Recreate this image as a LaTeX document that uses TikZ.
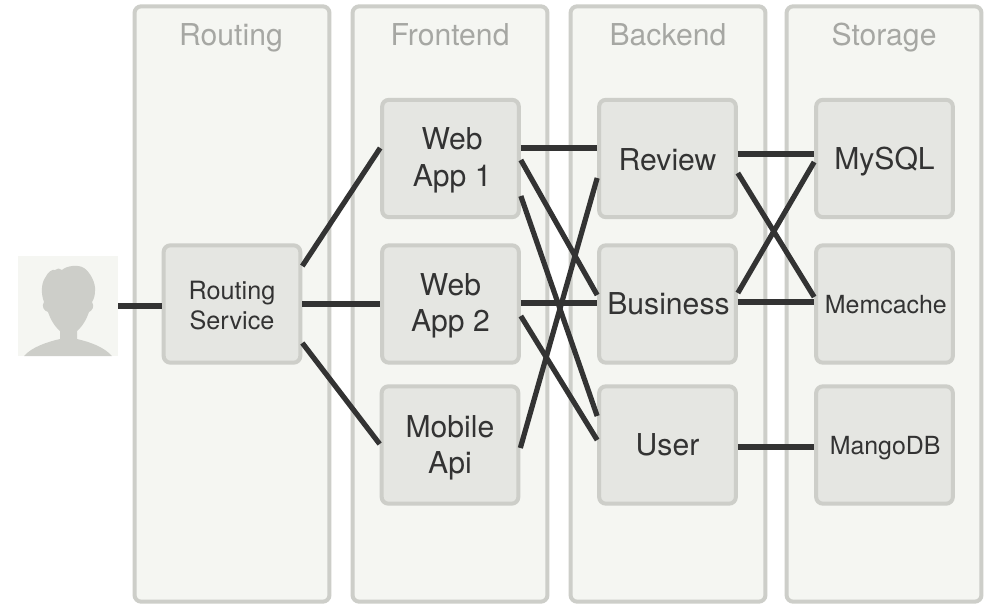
\documentclass[tikz,border=0pt]{standalone}
\usepackage{fontspec}
\setmainfont{TeX Gyre Heros}
\usetikzlibrary{calc}
\definecolor{laneFill}{HTML}{F5F6F2}
\definecolor{edgeGrey}{HTML}{CDCEC9}
\definecolor{boxFill}{HTML}{E5E6E2}
\definecolor{ink}{HTML}{333333}
\definecolor{titleGrey}{HTML}{A6A7A3}
\newcommand{\fsz}[1]{\fontsize{#1}{#1}\selectfont}
\newcommand{\lift}[2]{\raisebox{#1}{#2}}
\tikzset{
  x=0.75pt,y=-0.75pt,
  lane/.style={draw=edgeGrey,line width=3pt,fill=laneFill,rounded corners=5pt,minimum width=146.2pt,minimum height=446.5pt,inner sep=0pt},
  lanetitle/.style={text=titleGrey,font=\fsz{22.6},inner sep=0pt,anchor=base},
  box/.style={draw=edgeGrey,line width=3pt,fill=boxFill,rounded corners=5pt,minimum width=102.5pt,minimum height=88pt,inner sep=0pt,text=ink,align=center,font=\fsz{22.6},text depth=0pt},
  smallbox/.style={box,font=\fsz{18.9}},
  tinybox/.style={box,font=\fsz{18.7}},
  link/.style={draw=ink,line width=3.9pt},
  avatar/.style={fill=laneFill,minimum width=75pt,minimum height=75pt,inner sep=0pt}
}
\begin{document}
\begin{tikzpicture}
\useasboundingbox (0,0) rectangle (995,607);
\fill[white] (0,0) rectangle (995,607);
% lanes
\node[lane] (routing) at (232,304) {};
\node[lane] (frontend) at (450,304) {};
\node[lane] (backend) at (668,304) {};
\node[lane] (storage) at (884,304) {};
\node[lanetitle] (troute) at (231,45) {Routing};
\node[lanetitle] (tfront) at (450,45) {Frontend};
\node[lanetitle] (tback) at (668,45) {Backend};
\node[lanetitle] (tstore) at (884,45) {Storage};
% user
\node[avatar] (user) at (68,306) {};
\fill[edgeGrey] (24,356)
  .. controls (32,347) and (47,342) .. (60,339)
  -- (60,331)
  .. controls (54,326) and (50,318) .. (48,312)
  .. controls (44,311) and (41,306) .. (44,302)
  .. controls (41,294) and (41,284) .. (45,278)
  .. controls (48,272) and (52,269) .. (55,270)
  .. controls (57,268) and (60,268) .. (62,270)
  .. controls (66,266) and (78,264) .. (84,268)
  .. controls (90,272) and (96,283) .. (95,291)
  .. controls (95,295) and (94,299) .. (92,302)
  .. controls (95,306) and (92,311) .. (89,312)
  .. controls (87,318) and (83,326) .. (77,331)
  -- (77,339)
  .. controls (90,342) and (104,347) .. (112,356)
  -- cycle;
% boxes
\node[smallbox] (rs) at (232,304) {\lift{-2.2pt}{Routing}\\[3.5pt]\lift{-2.2pt}{Service}};
\node[box] (web1) at (450.5,158.5) {\lift{2.2pt}{\hspace*{2.5pt}Web}\\[4.7pt]\lift{2.2pt}{\hspace*{2.5pt}App 1}};
\node[box] (web2) at (450.5,304) {\lift{2.2pt}{Web}\\[4.7pt]\lift{2.2pt}{App 2}};
\node[box] (mobile) at (450,445) {\lift{0.4pt}{Mobile}\\[4.7pt]\lift{0.4pt}{Api}};
\node[box] (review) at (667.5,158.5) {\lift{-1pt}{Review}};
\node[box] (business) at (667.5,304) {\hspace*{1.5pt}Business};
\node[box] (usersvc) at (667.5,445) {User};
\node[box] (mysql) at (884.5,158.5) {MySQL};
\node[tinybox] (memcache) at (884.5,304) {\hspace*{2pt}Memcache};
\node[tinybox] (mango) at (884.5,445) {\hspace*{1pt}MangoDB};
% connectors
\draw[link] (user.east) -- ($(rs.west)+(0,2)$);
\draw[link] ($(rs.east)+(0,-38)$) -- ($(web1.west)+(0,-10.5)$);
\draw[link] (rs.east) -- (web2.west);
\draw[link] ($(rs.east)+(0,39)$) -- ($(mobile.west)+(0,-1)$);
\draw[link] ($(web1.east)+(0,-10.5)$) -- ($(review.west)+(0,-10.5)$);
\draw[link] ($(web1.east)+(0,1.5)$) -- ($(business.west)+(0,-9)$);
\draw[link] ($(web1.east)+(0,37.5)$) -- ($(usersvc.west)+(0,-29)$);
\draw[link] ($(web2.east)+(0,-1)$) -- ($(business.west)+(0,-1)$);
\draw[link] ($(web2.east)+(0,12)$) -- ($(usersvc.west)+(0,-5)$);
\draw[link] ($(mobile.east)+(0,3)$) -- ($(review.west)+(0,19.5)$);
\draw[link] ($(review.east)+(0,-4.5)$) -- ($(mysql.west)+(0,-4.5)$);
\draw[link] ($(review.east)+(0,14.5)$) -- ($(memcache.west)+(0,-7)$);
\draw[link] ($(business.east)+(0,-11)$) -- ($(mysql.west)+(0,3.5)$);
\draw[link] ($(business.east)+(0,-2)$) -- ($(memcache.west)+(0,-2)$);
\draw[link] ($(usersvc.east)+(0,2)$) -- ($(mango.west)+(0,2)$);
\end{tikzpicture}
\end{document}
